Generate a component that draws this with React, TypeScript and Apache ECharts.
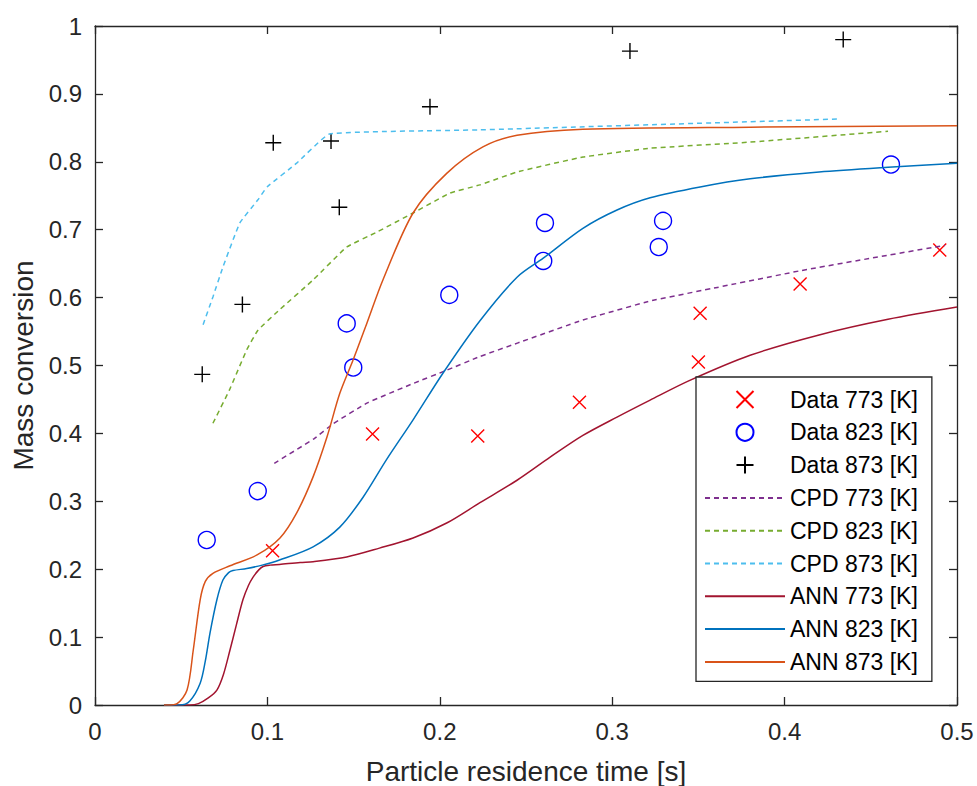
import React, { useEffect, useRef } from "react";
import * as echarts from "echarts";

// ---- Data ----
const xTicks = [0, 0.1, 0.2, 0.3, 0.4, 0.5];
const yTicks = [0, 0.1, 0.2, 0.3, 0.4, 0.5, 0.6, 0.7, 0.8, 0.9, 1];

const data773X = [0.103, 0.161, 0.222, 0.281, 0.35, 0.351, 0.409, 0.49];
const data773Y = [0.227, 0.399, 0.396, 0.446, 0.505, 0.577, 0.62, 0.67];

const data823X = [0.0648, 0.0944, 0.146, 0.1498, 0.2055, 0.261, 0.26, 0.3295, 0.327, 0.4617];
const data823Y = [0.243, 0.315, 0.562, 0.497, 0.604, 0.71, 0.654, 0.713, 0.6745, 0.796];

const data873X = [0.0622, 0.0855, 0.1034, 0.1369, 0.1417, 0.1943, 0.3103, 0.434];
const data873Y = [0.487, 0.59, 0.828, 0.8306, 0.733, 0.881, 0.963, 0.98];

const cpd773 = [
  [0.104, 0.356], [0.127, 0.392], [0.138, 0.414], [0.158, 0.445], [0.185, 0.474],
  [0.204, 0.493], [0.223, 0.513], [0.245, 0.533], [0.283, 0.567], [0.322, 0.595],
  [0.361, 0.615], [0.41, 0.64], [0.45, 0.658], [0.493, 0.677],
];
const cpd823 = [
  [0.0684, 0.415], [0.078, 0.464], [0.088, 0.523], [0.0945, 0.552], [0.107, 0.582],
  [0.1265, 0.626], [0.146, 0.6745], [0.1636, 0.6966], [0.1845, 0.7246], [0.206, 0.754],
  [0.2233, 0.766], [0.2448, 0.785], [0.283, 0.807], [0.322, 0.82], [0.38, 0.829],
  [0.46, 0.845],
];
const cpd873 = [
  [0.0627, 0.56], [0.0684, 0.601], [0.0742, 0.645], [0.084, 0.71], [0.0945, 0.744],
  [0.0998, 0.763], [0.117, 0.798], [0.136, 0.841], [0.2233, 0.847], [0.38, 0.859],
  [0.431, 0.863],
];
const ann773 = [
  [0.04, 0], [0.055, 0], [0.06, 0.002], [0.0655, 0.01], [0.0707, 0.022], [0.0745, 0.045],
  [0.0783, 0.081], [0.082, 0.118], [0.0858, 0.155], [0.089, 0.176], [0.0916, 0.188],
  [0.095, 0.199], [0.0975, 0.204], [0.1015, 0.206], [0.107, 0.207], [0.119, 0.21],
  [0.1265, 0.211], [0.146, 0.218], [0.165, 0.231], [0.1845, 0.246], [0.204, 0.268],
  [0.2233, 0.298], [0.2448, 0.331], [0.264, 0.365], [0.283, 0.397], [0.3028, 0.424],
  [0.322, 0.449], [0.345, 0.478], [0.38, 0.515], [0.42, 0.545], [0.46, 0.568], [0.5, 0.586],
];
const ann823 = [
  [0.04, 0], [0.049, 0], [0.055, 0.006], [0.061, 0.032], [0.064, 0.065], [0.0667, 0.106],
  [0.0707, 0.155], [0.0742, 0.184], [0.0775, 0.195], [0.08, 0.198], [0.088, 0.201],
  [0.097, 0.206], [0.107, 0.2135], [0.1265, 0.233], [0.142, 0.262], [0.1555, 0.306],
  [0.169, 0.361], [0.1845, 0.42], [0.2019, 0.489], [0.2233, 0.566], [0.2448, 0.63],
  [0.26, 0.658], [0.283, 0.702], [0.3028, 0.729], [0.322, 0.747], [0.351, 0.763],
  [0.38, 0.775], [0.42, 0.785], [0.46, 0.792], [0.5, 0.798],
];
const ann873 = [
  [0.04, 0], [0.0423, 0], [0.0476, 0.002], [0.0534, 0.022], [0.057, 0.081], [0.061, 0.155],
  [0.064, 0.182], [0.0684, 0.194], [0.0783, 0.205], [0.094, 0.221], [0.1073, 0.246],
  [0.117, 0.283], [0.1265, 0.336], [0.1346, 0.395], [0.142, 0.459], [0.1497, 0.508],
  [0.1578, 0.563], [0.167, 0.626], [0.1845, 0.7246], [0.204, 0.783], [0.225, 0.822],
  [0.2448, 0.839], [0.283, 0.848], [0.38, 0.851], [0.5, 0.853],
];

const seriesNames = [
  "Data 773 [K]", "Data 823 [K]", "Data 873 [K]",
  "CPD 773 [K]", "CPD 823 [K]", "CPD 873 [K]",
  "ANN 773 [K]", "ANN 823 [K]", "ANN 873 [K]",
];

const FONT = "'Liberation Sans', Arial, Helvetica, sans-serif";
const AXIS_COLOR = "#262626";

export default function App() {
  const ref = useRef<HTMLDivElement>(null);

  useEffect(() => {
    if (!ref.current) return;
    const chart = echarts.init(ref.current, undefined, { renderer: "svg" });

    const zip = (xs: number[], ys: number[]) => xs.map((x, i) => [x, ys[i]]);
    const fmt = (v: number) => String(Math.round(v * 10) / 10);

    const axisCommon = {
      type: "value" as const,
      axisLine: { show: true, onZero: false, lineStyle: { color: AXIS_COLOR, width: 1.3 } },
      axisTick: { show: true, inside: true, length: 8, lineStyle: { color: AXIS_COLOR, width: 1.3 } },
      splitLine: { show: false },
    };

    const lineSeries = (name: string, data: number[][], color: string, dashed: boolean, smooth: number) => ({
      name,
      type: "line",
      data,
      showSymbol: false,
      symbol: "none",
      smooth,
      itemStyle: { color: "transparent", borderColor: "transparent", borderWidth: 0 },
      lineStyle: { color, width: 1.5, type: dashed ? [5, 4] : "solid" },
      xAxisIndex: 0,
      yAxisIndex: 0,
    });

    const scatterSeries = (name: string, data: number[][], symbol: string, size: number, color: string) => ({
      name,
      type: "scatter",
      data,
      symbol,
      symbolSize: size,
      itemStyle: { color: "none", borderColor: color, borderWidth: 1.4, opacity: 1 },
      xAxisIndex: 0,
      yAxisIndex: 0,
    });

    const legendData = seriesNames.map((name, i) =>
      i < 3
        ? { name }
        : { name, itemStyle: { color: "transparent", borderColor: "transparent", borderWidth: 0, opacity: 0 } }
    );

    chart.setOption({
      animation: false,
      backgroundColor: "#ffffff",
      textStyle: { fontFamily: FONT },
      grid: { left: 95, right: 20, top: 26, bottom: 81, containLabel: false, outerBoundsMode: "none" },
      xAxis: [
        {
          ...axisCommon,
          position: "bottom",
          min: xTicks[0],
          max: xTicks[xTicks.length - 1],
          interval: 0.1,
          name: "Particle residence time [s]",
          nameLocation: "middle",
          nameGap: 52,
          nameTextStyle: { fontSize: 28, color: "#262626", fontFamily: FONT },
          axisLabel: { show: true, margin: 14, fontSize: 24, color: "#262626", fontFamily: FONT, formatter: fmt },
        },
        {
          ...axisCommon,
          position: "top",
          min: xTicks[0],
          max: xTicks[xTicks.length - 1],
          interval: 0.1,
          axisLabel: { show: false },
        },
      ],
      yAxis: [
        {
          ...axisCommon,
          position: "left",
          min: yTicks[0],
          max: yTicks[yTicks.length - 1],
          interval: 0.1,
          name: "Mass conversion",
          nameLocation: "middle",
          nameGap: 56,
          nameTextStyle: { fontSize: 28, color: "#262626", fontFamily: FONT },
          axisLabel: { show: true, margin: 13, fontSize: 24, color: "#262626", fontFamily: FONT, formatter: fmt },
        },
        {
          ...axisCommon,
          position: "right",
          min: yTicks[0],
          max: yTicks[yTicks.length - 1],
          interval: 0.1,
          axisLabel: { show: false },
        },
      ],
      legend: {
        show: true,
        orient: "vertical",
        left: 696,
        top: 377,
        padding: [11, 14, 8, 8],
        itemWidth: 80,
        itemHeight: 17,
        itemGap: 9.8,
        backgroundColor: "#ffffff",
        borderColor: AXIS_COLOR,
        borderWidth: 1.3,
        borderRadius: 0,
        textStyle: { fontSize: 23, color: "#000000", fontFamily: FONT },
        data: legendData,
        selectedMode: false,
      },
      series: [
        scatterSeries(seriesNames[0], zip(data773X, data773Y), "path://M0,0L10,10M10,0L0,10", 13, "#FF0000"),
        scatterSeries(seriesNames[1], zip(data823X, data823Y), "circle", 17, "#0000FF"),
        scatterSeries(seriesNames[2], zip(data873X, data873Y), "path://M5,0L5,10M0,5L10,5", 16, "#000000"),
        lineSeries(seriesNames[3], cpd773, "#7E2F8E", true, 0.1),
        lineSeries(seriesNames[4], cpd823, "#77AC30", true, 0.1),
        lineSeries(seriesNames[5], cpd873, "#4DBEEE", true, 0.1),
        lineSeries(seriesNames[6], ann773, "#A2142F", false, 0.3),
        lineSeries(seriesNames[7], ann823, "#0072BD", false, 0.3),
        lineSeries(seriesNames[8], ann873, "#D95319", false, 0.3),
      ],
    });

    return () => {
      chart.dispose();
    };
  }, []);

  return (
    <div
      ref={ref}
      style={{ position: "fixed", left: 0, top: 0, width: 977, height: 786, background: "#fff" }}
    />
  );
}
